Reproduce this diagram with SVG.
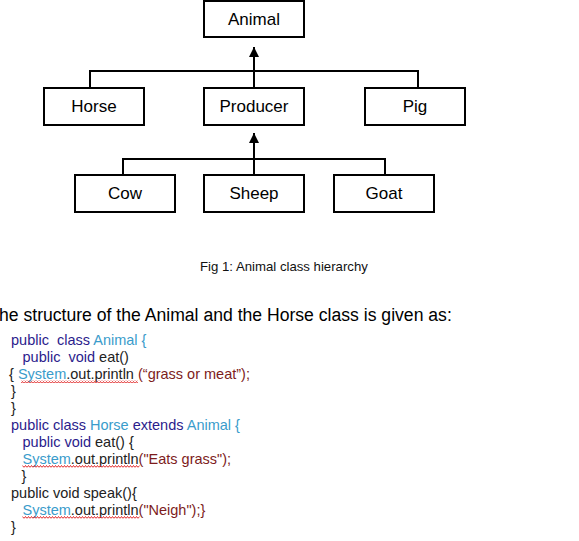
<svg xmlns="http://www.w3.org/2000/svg" width="579" height="541" viewBox="0 0 579 541">
<style>
.box{fill:#fff;stroke:#000;stroke-width:2}
.lbl{font-family:"Liberation Sans",Arial,sans-serif;font-size:17px;fill:#000;text-anchor:middle}
.con{fill:none;stroke:#000;stroke-width:2}
.cap{font-family:"Liberation Sans",Arial,sans-serif;font-size:13.2px;fill:#111}
.head{font-family:"Liberation Sans",Arial,sans-serif;font-size:17.6px;fill:#000}
.code{font-family:"Liberation Sans",Arial,sans-serif;font-size:14.5px;fill:#222}
.kw{fill:#2b1c8c}
.cls{fill:#3a9ccb}
.str{fill:#7d1c1c}
</style>
<defs>
<marker id="ah" viewBox="0 0 10 10" refX="10" refY="5" markerWidth="10" markerHeight="10" markerUnits="userSpaceOnUse" orient="auto">
<path d="M0,0 L10,5 L0,10 z" fill="#000"/>
</marker>
<pattern id="wave" width="3" height="3" patternUnits="userSpaceOnUse">
<path d="M0,2.5 L1.5,0.5 L3,2.5" fill="none" stroke="#e02828" stroke-width="1"/>
</pattern>
</defs>
<rect width="579" height="541" fill="#fff"/>
<g id="connectors">
<path class="con" d="M90,88 V71 H418 V88"/>
<path class="con" d="M254,88 V47" marker-end="url(#ah)"/>
<path class="con" d="M123,175 V159 H385 V175"/>
<path class="con" d="M254,175 V133" marker-end="url(#ah)"/>
</g>
<g id="animal"><rect class="box" x="204" y="1" width="100" height="36"/><text class="lbl" x="254" y="25">Animal</text></g>
<g id="horse"><rect class="box" x="44" y="88" width="100" height="37"/><text class="lbl" x="94" y="112">Horse</text></g>
<g id="producer"><rect class="box" x="204" y="88" width="100" height="37"/><text class="lbl" x="254" y="112">Producer</text></g>
<g id="pig"><rect class="box" x="365" y="88" width="100" height="37"/><text class="lbl" x="415" y="112">Pig</text></g>
<g id="cow"><rect class="box" x="75" y="175" width="100" height="37"/><text class="lbl" x="125" y="199">Cow</text></g>
<g id="sheep"><rect class="box" x="204" y="175" width="100" height="37"/><text class="lbl" x="254" y="199">Sheep</text></g>
<g id="goat"><rect class="box" x="334" y="175" width="100" height="37"/><text class="lbl" x="384" y="199">Goat</text></g>
<text class="cap" x="200" y="271">Fig 1: Animal class hierarchy</text>
<text class="head" x="-1" y="321">he structure of the Animal and the Horse class is given as:</text>
<g class="code">
<text x="11" y="345" xml:space="preserve"><tspan class="kw">public  class </tspan><tspan class="cls">Animal {</tspan></text>
<text x="22.5" y="362" xml:space="preserve"><tspan class="kw">public  void </tspan>eat()</text>
<text x="9" y="379">{ <tspan class="cls">System</tspan>.out.println <tspan class="str">(“grass or meat”);</tspan></text>
<text x="11" y="396">}</text>
<text x="11" y="413">}</text>
<text x="11" y="430"><tspan class="kw">public class </tspan><tspan class="cls">Horse </tspan><tspan class="kw">extends </tspan><tspan class="cls">Animal {</tspan></text>
<text x="22.5" y="447"><tspan class="kw">public void </tspan>eat() {</text>
<text x="22.5" y="464"><tspan class="cls">System</tspan>.out.println<tspan class="str">("Eats grass");</tspan></text>
<text x="21.5" y="481">}</text>
<text x="11" y="498">public void speak(){</text>
<text x="22.5" y="515"><tspan class="cls">System</tspan>.out.println<tspan class="str">("Neigh");}</tspan></text>
<text x="11" y="532">}</text>
</g>
<rect x="21" y="380" width="117" height="3" fill="url(#wave)"/>
<rect x="22.5" y="465" width="117" height="3" fill="url(#wave)"/>
<rect x="22.5" y="516" width="117" height="3" fill="url(#wave)"/>
</svg>
